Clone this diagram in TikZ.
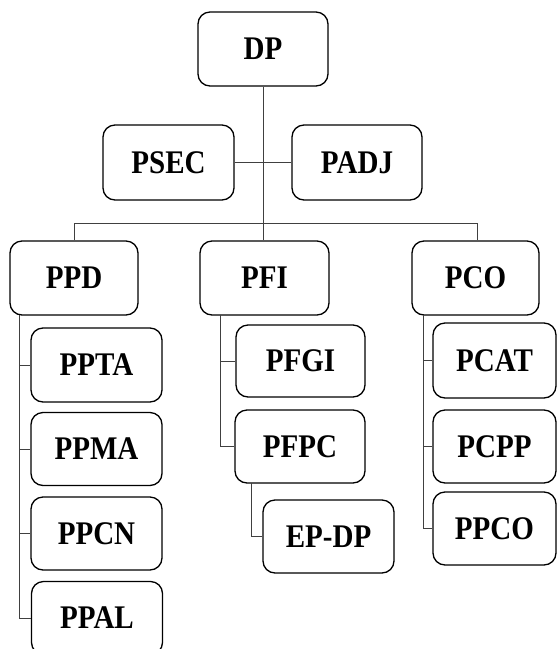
\documentclass[tikz,border=0pt]{standalone}
\usepackage{fontspec}
\setmainfont{Liberation Serif}[FakeStretch=0.88]
\begin{document}
\begin{tikzpicture}[x=1pt,y=-1pt,
  orgbox/.style={draw=black, line width=1.3pt, rounded corners=12pt, minimum width=130pt, minimum height=74pt, inner sep=0pt, font=\fontsize{33}{33}\selectfont\bfseries, fill=white},
  link/.style={draw=black!75, line width=0.8pt}]
\useasboundingbox (0,0) rectangle (557,649);
\begin{scope}
\clip (0,0) rectangle (557,649);
% nodes
\node[orgbox] (dp) at (263,49) {DP};
\node[orgbox, minimum width=131pt, minimum height=75pt] (psec) at (168.5,162.5) {PSEC};
\node[orgbox, minimum height=75pt] (padj) at (357,162.5) {PADJ};
\node[orgbox, minimum width=128pt] (ppd) at (74,278) {PPD};
\node[orgbox, minimum width=129pt] (pfi) at (264.5,278) {PFI};
\node[orgbox, minimum width=127pt] (pco) at (475.5,278) {PCO};
\node[orgbox, minimum width=131pt] (ppta) at (96.5,365) {PPTA};
\node[orgbox, minimum width=131pt, minimum height=73pt] (ppma) at (96.5,449) {PPMA};
\node[orgbox, minimum width=131pt, minimum height=73pt] (ppcn) at (96.5,533.5) {PPCN};
\node[orgbox, minimum width=131pt, minimum height=73pt] (ppal) at (97,618) {PPAL};
\node[orgbox, minimum width=129pt, minimum height=72pt] (pfgi) at (300.5,361) {PFGI};
\node[orgbox, minimum width=130pt, minimum height=73pt] (pfpc) at (300,446.5) {PFPC};
\node[orgbox, minimum width=131pt, minimum height=73pt] (epdp) at (328.5,536.5) {EP-DP};
\node[orgbox, minimum width=123pt, minimum height=75pt] (pcat) at (494.5,360.5) {PCAT};
\node[orgbox, minimum width=123pt, minimum height=73pt] (pcpp) at (494.5,446.5) {PCPP};
\node[orgbox, minimum width=123pt, minimum height=73pt] (ppco) at (494.5,528.5) {PPCO};
% connectors
\coordinate (busL) at (74,223);
\coordinate (busR) at (477,223);
\draw[link] (dp.south) -- (dp.south |- pfi.north);
\draw[link] (psec.east) -- (padj.west);
\draw[link] (ppd.north) -- (busL) -- (busR) -- (busR |- pco.north);
% PPD column
\coordinate (ppdT) at (19,315);
\draw[link] (ppdT) -- (ppdT |- ppal.west) -- (ppal.west);
\draw[link] (ppdT |- ppta.west) -- (ppta.west);
\draw[link] (ppdT |- ppma.west) -- (ppma.west);
\draw[link] (ppdT |- ppcn.west) -- (ppcn.west);
% PFI column
\coordinate (pfiT) at (220,315);
\draw[link] (pfiT) -- (pfiT |- pfpc.west) -- (pfpc.west);
\draw[link] (pfiT |- pfgi.west) -- (pfgi.west);
\coordinate (pfpcT) at (251,483);
\draw[link] (pfpcT) -- (pfpcT |- epdp.west) -- (epdp.west);
% PCO column
\coordinate (pcoT) at (423,315);
\draw[link] (pcoT) -- (pcoT |- ppco.west) -- (ppco.west);
\draw[link] (pcoT |- pcat.west) -- (pcat.west);
\draw[link] (pcoT |- pcpp.west) -- (pcpp.west);
\end{scope}
\end{tikzpicture}
\end{document}
